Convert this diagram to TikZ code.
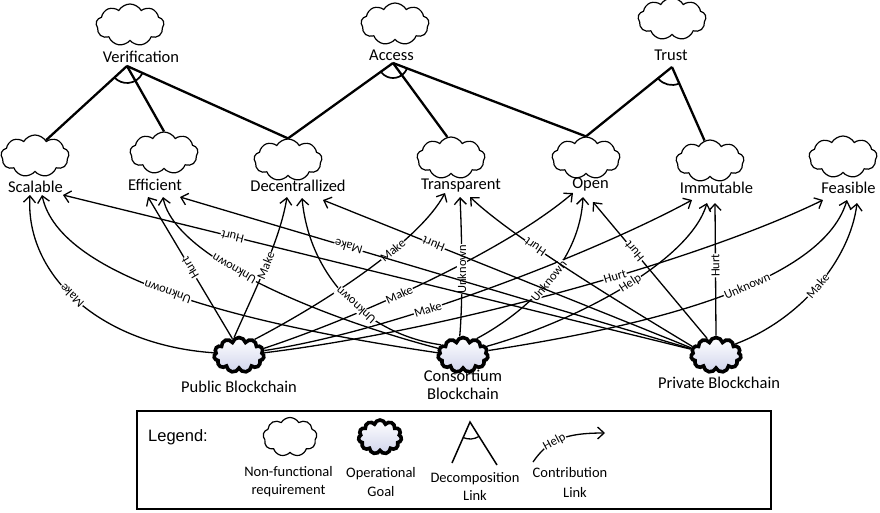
\documentclass[tikz,border=0pt]{standalone}
\usepackage{fontspec}
\setmainfont{Carlito}
\newfontfamily\legendfont{Liberation Sans}
\usetikzlibrary{shapes.symbols,arrows.meta}
\definecolor{goalfill}{RGB}{208,212,236}

\begin{document}
\begin{tikzpicture}[x=1pt,y=-1pt,
  softgoal/.style={cloud, cloud puffs=9, cloud puff arc=120, cloud ignores aspect,
    draw, line width=1.2pt, minimum width=68pt, minimum height=42pt, inner sep=0pt},
  opgoal/.style={cloud, cloud puffs=11, cloud puff arc=150, cloud ignores aspect,
    draw, line width=3.6pt, minimum width=50pt, minimum height=35pt, inner sep=0pt,
    top color=white, bottom color=goalfill},
  goaltext/.style={font=\fontsize{16.5}{18}\selectfont, inner sep=0pt, anchor=base},
  legtext/.style={font=\fontsize{14.5}{16}\selectfont, inner sep=0pt, anchor=base},
  decomp/.style={line width=2.3pt},
  andarc/.style={line width=1.7pt},
  contrib/.style={line width=1.3pt, -{Straight Barb[length=6.5pt,width=12pt]}},
  lbl/.style={font=\fontsize{12.5}{13}\selectfont, fill=white, inner sep=0.6pt,
    sloped, allow upside down},
]
\useasboundingbox (0,0) rectangle (880,512);

% ---------- top-level softgoals ----------
\node[softgoal] (cVer) at (130,25) {};
\node[goaltext] (ver) at (141,62) {Verification};
\node[softgoal] (cAcc) at (395,24) {};
\node[goaltext] (acc) at (391.5,60) {Access};
\node[softgoal] (cTru) at (672,19) {};
\node[goaltext] (tru) at (671,60) {Trust};

% ---------- second-level softgoals ----------
\node[softgoal] (cScal) at (35,156) {};
\node[goaltext] (scal) at (35.5,192) {Scalable};
\node[softgoal] (cEff) at (164,153) {};
\node[goaltext] (eff) at (155,190) {Efficient};
\node[softgoal] (cDec) at (288,160) {};
\node[goaltext] (dec) at (298,191) {Decentrallized};
\node[softgoal] (cTra) at (451,158) {};
\node[goaltext] (tra) at (461,189) {Transparent};
\node[softgoal] (cOpe) at (586,158) {};
\node[goaltext] (ope) at (590.5,188) {Open};
\node[softgoal] (cImm) at (710,161) {};
\node[goaltext] (imm) at (716.5,193) {Immutable};
\node[softgoal] (cFea) at (843,157) {};
\node[goaltext] (fea) at (848.5,193) {Feasible};

% ---------- AND decompositions ----------
\coordinate (verA) at (127,66);
\coordinate (accA) at (393,63);
\coordinate (truA) at (672,67);
\draw[decomp] (verA) -- (cScal.55);
\draw[decomp] (verA) -- (cEff.north);
\draw[decomp] (verA) -- (cDec.north);
\draw[andarc] ([shift={(25.6:17)}]verA) arc[start angle=25.6, end angle=137.2, radius=17];
\draw[decomp] (accA) -- (cDec.north);
\draw[decomp] (accA) -- (cTra.100);
\draw[decomp] (accA) -- (cOpe.north);
\draw[andarc] ([shift={(22.3:15)}]accA) arc[start angle=22.3, end angle=142.7, radius=15];
\draw[decomp] (truA) -- (cOpe.north);
\draw[decomp] (truA) -- (cImm.105);
\draw[andarc] ([shift={(67.8:18)}]truA) arc[start angle=67.8, end angle=138.9, radius=18];

% ---------- operational goals ----------
\node[opgoal] (pub) at (239,355) {};
\node[goaltext] (pubL) at (239,392) {Public Blockchain};
\node[opgoal] (con) at (463,355) {};
\node[goaltext] (conL1) at (463,381) {Consortium};
\node[goaltext] (conL2) at (463,399) {Blockchain};
\node[opgoal] (pri) at (716,355) {};
\node[goaltext] (priL) at (719,388) {Private Blockchain};

% ---------- contributions of the public blockchain ----------
\draw[contrib] (pub.175) .. controls (100,345) and (25,275) .. ([shift={(-5.5,3)}]scal.base) node[lbl,pos=0.53]{Make};
\draw[contrib] (pub.112) -- node[lbl,pos=0.5]{Hurt} ([shift={(-7,7)}]eff.base);
\draw[contrib] (pub.105) .. controls (255,290) and (280,240) .. ([shift={(-11,6)}]dec.base) node[lbl,pos=0.5]{Make};
\draw[contrib] (pub.45) .. controls (330,300) and (420,240) .. ([shift={(-16,4)}]tra.base) node[lbl,pos=0.62]{Make};
\draw[contrib] (pub.15) .. controls (350,320) and (500,255) .. ([shift={(-17.5,5)}]ope.base) node[lbl,pos=0.43]{Make};
\draw[contrib] (pub.10) .. controls (400,330) and (600,250) .. ([shift={(-24.5,7)}]imm.base) node[lbl,pos=0.36]{Make};
\draw[contrib] (pub.5) .. controls (450,330) and (700,260) .. ([shift={(-25.5,7)}]fea.base) node[lbl,pos=0.58]{Hurt};

% ---------- contributions of the consortium blockchain ----------
\draw[contrib] (con.175) .. controls (250,325) and (60,280) .. ([shift={(6.5,3)}]scal.base) node[lbl,pos=0.52]{Unknown};
\draw[contrib] (con.165) .. controls (330,320) and (175,260) .. ([shift={(8,7)}]eff.base) node[lbl,pos=0.6]{Unknown};
\draw[contrib] (con.155) .. controls (370,335) and (310,280) .. ([shift={(4,7)}]dec.base) node[lbl,pos=0.45]{Unknown};
\draw[contrib] (con.100) .. controls (463,300) and (462,240) .. ([shift={(-1,8)}]tra.base) node[lbl,pos=0.5]{Unknown};
\draw[contrib] (con.50) .. controls (530,310) and (580,260) .. ([shift={(-7.5,9)}]ope.base) node[lbl,pos=0.5]{Unknown};
\draw[contrib] (con.20) .. controls (580,320) and (690,260) .. ([shift={(-9.5,10)}]imm.base) node[lbl,pos=0.52]{Help};
\draw[contrib] (con.10) .. controls (620,330) and (820,290) .. ([shift={(-1.5,7)}]fea.base) node[lbl,pos=0.6]{Unknown};

% ---------- contributions of the private blockchain ----------
\draw[contrib] (pri.167) -- node[lbl,pos=0.73]{Hurt} ([shift={(27.5,3)}]scal.base);
\draw[contrib] (pri.166) -- node[lbl,pos=0.67]{Make} ([shift={(25,7)}]eff.base);
\draw[contrib] (pri.164) -- node[lbl,pos=0.70]{Hurt} ([shift={(25,9)}]dec.base);
\draw[contrib] (pri.160) .. controls (610,297) and (510,235) .. ([shift={(9,8)}]tra.base) node[lbl,pos=0.63]{Hurt};
\draw[contrib] (pri.118) -- node[lbl,pos=0.64]{Hurt} ([shift={(2.5,14)}]ope.base);
\draw[contrib] (pri.90) -- node[lbl,pos=0.53]{Hurt} ([shift={(-1.5,10)}]imm.base);
\draw[contrib] (pri.30) .. controls (800,320) and (850,260) .. ([shift={(8.5,10)}]fea.base) node[lbl,pos=0.5]{Make};

% ---------- legend ----------
\draw[line width=1.4pt] (137,411) rectangle (771,509);
\node[anchor=base, inner sep=0pt, font=\legendfont\fontsize{16.5}{18}\selectfont] (legT) at (178,441) {Legend:};

\node[softgoal, minimum width=54pt, minimum height=39pt] (lgNfr) at (290,437) {};
\node[legtext] (lgNfr1) at (288.5,476) {Non-functional};
\node[legtext] (lgNfr2) at (288.5,494) {requirement};

\node[opgoal, minimum width=43pt, minimum height=34pt] (lgOp) at (380,437) {};
\node[legtext] (lgOp1) at (381,477) {Operational};
\node[legtext] (lgOp2) at (381,496) {Goal};

\coordinate (lgApex) at (470,422);
\coordinate (lgLeft) at (452,463);
\coordinate (lgRight) at (497,465);
\draw[line width=1.5pt] (lgLeft) -- (lgApex) -- (lgRight);
\draw[line width=1.3pt] ([shift={(57.9:17)}]lgApex) arc[start angle=57.9, end angle=113.7, radius=17];
\node[legtext] (lgDec1) at (475,482) {Decomposition};
\node[legtext] (lgDec2) at (475,500) {Link};

\coordinate (lgFrom) at (533,462);
\coordinate (lgTo) at (605,433);
\draw[contrib] (lgFrom) .. controls (548,440) and (565,433) .. (lgTo) node[lbl,pos=0.42]{Help};
\node[legtext] (lgCon1) at (570,477) {Contribution};
\node[legtext] (lgCon2) at (575,497) {Link};
\end{tikzpicture}
\end{document}
